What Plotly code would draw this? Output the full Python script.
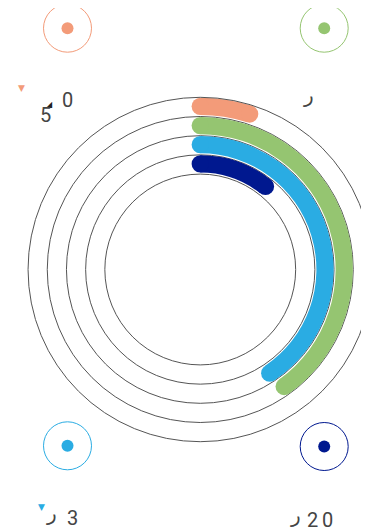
import plotly.graph_objects as go

# ---- data ----
series = ["Series A", "Series B", "Series C", "Series D"]
values_pct = [4.9, 40.1, 40.6, 10.6]          # share of a full turn
colors = ["#F39B79", "#95C571", "#2AACE3", "#00188F"]

# corner labels (value texts as shown)
label_main = ["0", "", "3", "20"]

W, H = 365, 524
OFF = 8              # page offset of the figure
n = len(series)
band = 0.9          # bar thickness in ring units
inset = 0.02
unit_px = 19.2

def px(x):
    return (x - OFF) / W

def py(y):
    return 1 - (y - OFF) / H

fig = go.Figure()

for i, (name, v, c) in enumerate(zip(series, values_pct, colors)):
    level = n - i                      # outer gridline index for this ring
    deg = v * 3.6
    fig.add_trace(go.Barpolar(
        r=[band], base=[level - inset - band], theta=[deg / 2], width=[deg],
        marker=dict(color=c, line=dict(width=0)), name=name, showlegend=False,
        hoverinfo="skip"))
    fig.add_trace(go.Scatterpolar(
        r=[level - inset - band / 2] * 2, theta=[0, deg], mode="markers",
        marker=dict(color=c, size=band * unit_px, line=dict(width=0)),
        showlegend=False, hoverinfo="skip", cliponaxis=False))

fig.update_layout(
    width=W, height=H, margin=dict(l=0, r=0, t=0, b=0),
    paper_bgcolor="white",
    polar=dict(
        domain=dict(x=[px(28), px(372.5)], y=[py(441.7), py(97.3)]),
        bgcolor="white",
        angularaxis=dict(direction="clockwise", rotation=90, showgrid=False,
                         showticklabels=False, ticks="", showline=True,
                         linecolor="#555", linewidth=1),
        radialaxis=dict(range=[-4.97, 4.0], tickvals=[0, 1, 2, 3],
                        showline=False, showticklabels=False, ticks="",
                        gridcolor="#555", gridwidth=1),
    ),
    font=dict(family="Roboto, DejaVu Sans", color="#444"),
)

# corner legend markers
centers = [(67.5, 28.2), (324.2, 28.2), (67.5, 445.8), (324.2, 446.5)]
for (cx, cy), c in zip(centers, colors):
    for rad, fill in ((24, None), (6, c)):
        fig.add_shape(type="circle", xref="paper", yref="paper",
                      x0=px(cx - rad), x1=px(cx + rad),
                      y0=py(cy + rad), y1=py(cy - rad),
                      line=dict(color=c, width=1 if fill is None else 0),
                      fillcolor=fill if fill else "rgba(0,0,0,0)")

def txt(s, x, y, size=20, color="#444"):
    fig.add_annotation(text=s, x=px(x), y=py(y), xref="paper", yref="paper",
                       showarrow=False, xanchor="center", yanchor="middle",
                       font=dict(size=size, color=color))

# top-left
txt("▼", 21, 87.5, 9, colors[0])
txt("◢", 49, 104.5, 8, "#222")
txt("5", 45, 115)
txt(label_main[0], 67, 100)
# top-right
txt("ر", 308, 95)
# bottom-left
txt("▼", 41.5, 506.5, 9, colors[2])
txt("ر", 51, 512.5)
txt(label_main[2], 72.5, 517.5)
# bottom-right
txt("ر", 295.5, 515)
txt(label_main[3][0], 312.5, 519.5)
txt(label_main[3][1], 327.5, 519.5)

fig.write_html("out.html")
